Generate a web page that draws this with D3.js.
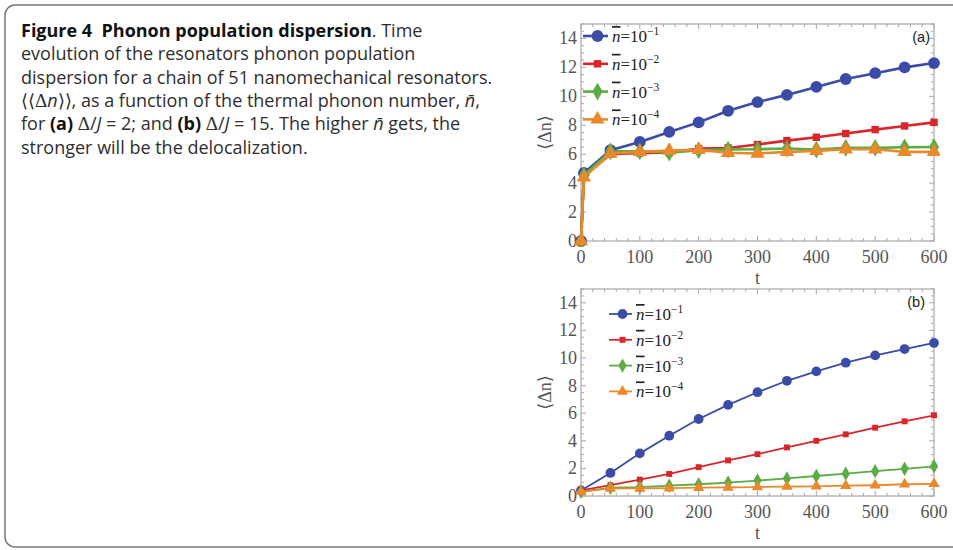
<!DOCTYPE html>
<html>
<head>
<meta charset="utf-8">
<script src="https://cdn.jsdelivr.net/npm/d3@7"></script>
<style>
  html, body { margin: 0; padding: 0; background: #fff; }
  svg { display: block; }
</style>
</head>
<body>
<div id="main"></div>
<script>
// time points (same for all series)
const tA = [0, 5, 50, 100, 150, 200, 250, 300, 350, 400, 450, 500, 550, 600];
const tB = [0, 50, 100, 150, 200, 250, 300, 350, 400, 450, 500, 550, 600];

// panel (a): Delta/J = 2
const a_n1 = [0, 4.7, 6.28, 6.85, 7.54, 8.2, 9.0, 9.6, 10.1, 10.65, 11.2, 11.6, 12.0, 12.3];
const a_n2 = [0, 4.5, 6.0, 6.09, 6.1, 6.39, 6.43, 6.67, 6.94, 7.17, 7.43, 7.7, 7.95, 8.2];
const a_n3 = [0, 4.55, 6.2, 6.2, 6.1, 6.28, 6.32, 6.34, 6.39, 6.32, 6.44, 6.44, 6.48, 6.5];
const a_n4 = [0, 4.4, 6.05, 6.16, 6.25, 6.3, 6.1, 6.05, 6.16, 6.23, 6.34, 6.34, 6.16, 6.16];

// panel (b): Delta/J = 15
const b_n1 = [0.4, 1.67, 3.09, 4.37, 5.58, 6.6, 7.52, 8.35, 9.03, 9.66, 10.19, 10.65, 11.09];
const b_n2 = [0.4, 0.78, 1.19, 1.6, 2.09, 2.58, 3.03, 3.52, 4.0, 4.47, 4.95, 5.41, 5.85];
const b_n3 = [0.3, 0.6, 0.65, 0.75, 0.85, 0.97, 1.12, 1.27, 1.45, 1.62, 1.8, 1.97, 2.15];
const b_n4 = [0.3, 0.55, 0.55, 0.57, 0.6, 0.62, 0.65, 0.68, 0.7, 0.75, 0.78, 0.85, 0.88];

const legendExp = ["\u22121", "\u22122", "\u22123", "\u22124"];
const xTicks = [0, 100, 200, 300, 400, 500, 600];
const yTicks = [0, 2, 4, 6, 8, 10, 12, 14];

const colors = ["#3a4ca6", "#d9262a", "#5cab45", "#e9892b"];
const symbols = [d3.symbolCircle, d3.symbolSquare, d3.symbolDiamond, d3.symbolTriangle];

const ctx = { w: 953, h: 550 };

const svg = d3.select("#main").append("svg")
    .attr("width", ctx.w).attr("height", ctx.h);

// outer caption box (runs off the right edge)
svg.append("rect")
    .attr("x", 5).attr("y", 5)
    .attr("width", 970).attr("height", 542)
    .attr("rx", 10).attr("ry", 10)
    .attr("fill", "none").attr("stroke", "#777").attr("stroke-width", 1.5);

// caption text
const capFont = "'Open Sans', 'Noto Sans', sans-serif";
const serif = "'Liberation Serif', 'DejaVu Serif', serif";
const caption = svg.append("text")
    .attr("font-family", capFont)
    .attr("font-size", 18)
    .attr("fill", "#2e2e2e")
    .style("white-space", "pre");

const nbar = "n\u0304";
// [text, style]: b = bold, i = italic, s = serif symbol
const lines = [
    [["Figure 4  Phonon population dispersion", "b"], [". Time", ""]],
    [["evolution of the resonators phonon population", ""]],
    [["dispersion for a chain of 51 nanomechanical resonators.", ""]],
    [["\u27E8\u27E8", ""], ["\u0394", "s"], ["n", "i"], ["\u27E9\u27E9, as a function of the thermal phonon number, ", ""], [nbar, "i"], [",", ""]],
    [["for ", ""], ["(a)", "b"], [" ", ""], ["\u0394", "s"], ["/", ""], ["J", "i"], [" = 2; and ", ""], ["(b)", "b"], [" ", ""], ["\u0394", "s"], ["/", ""], ["J", "i"], [" = 15. The higher ", ""], [nbar, "i"], [" gets, the", ""]],
    [["stronger will be the delocalization.", ""]]
];
lines.forEach(function(parts, i) {
    parts.forEach(function(p, j) {
        const ts = caption.append("tspan").text(p[0]);
        if (j === 0) ts.attr("x", 21).attr("y", 37 + i * 23.3);
        if (p[1] === "b") ts.attr("font-weight", "bold").attr("fill", "#111");
        if (p[1] === "i") ts.attr("font-style", "italic");
        if (p[1] === "s") ts.attr("font-family", serif).attr("font-size", 19);
    });
});

// one framed panel
function drawPanel(cfg) {
    const x = d3.scaleLinear().domain([0, 600]).range([cfg.left, cfg.right]);
    const y = d3.scaleLinear().domain([0, 15]).range([cfg.bottom, cfg.top]);
    const g = svg.append("g");
    const frameCol = "#a8a8a8";
    const labelCol = "#555";

    // minor + major ticks on all four sides
    const xMinor = d3.range(0, 601, 20);
    const yMinor = d3.range(0, 15.01, 0.5);
    const tk = g.append("g").attr("stroke", frameCol).attr("stroke-width", 1);
    xMinor.forEach(function(v) {
        const len = (v % 100 === 0) ? 5 : 3;
        tk.append("line").attr("x1", x(v)).attr("x2", x(v)).attr("y1", cfg.bottom).attr("y2", cfg.bottom - len);
        tk.append("line").attr("x1", x(v)).attr("x2", x(v)).attr("y1", cfg.top).attr("y2", cfg.top + len);
    });
    yMinor.forEach(function(v) {
        const len = (v % 2 === 0) ? 5 : 3;
        tk.append("line").attr("y1", y(v)).attr("y2", y(v)).attr("x1", cfg.left).attr("x2", cfg.left + len);
        tk.append("line").attr("y1", y(v)).attr("y2", y(v)).attr("x1", cfg.right).attr("x2", cfg.right - len);
    });

    g.append("rect")
        .attr("x", cfg.left).attr("y", cfg.top)
        .attr("width", cfg.right - cfg.left).attr("height", cfg.bottom - cfg.top)
        .attr("fill", "none").attr("stroke", frameCol).attr("stroke-width", 1.2);

    // tick labels
    g.append("g").selectAll("text").data(xTicks).enter().append("text")
        .attr("x", function(d) { return x(d); })
        .attr("y", cfg.bottom + 22)
        .attr("text-anchor", "middle")
        .attr("font-family", serif).attr("font-size", 18).attr("fill", labelCol)
        .text(function(d) { return d; });
    g.append("g").selectAll("text").data(yTicks).enter().append("text")
        .attr("x", cfg.left - 4)
        .attr("y", function(d) { return y(d) + 6; })
        .attr("text-anchor", "end")
        .attr("font-family", serif).attr("font-size", 18).attr("fill", labelCol)
        .text(function(d) { return d; });

    // axis titles
    g.append("text")
        .attr("x", (cfg.left + cfg.right) / 2).attr("y", cfg.bottom + 43)
        .attr("text-anchor", "middle")
        .attr("font-family", serif).attr("font-size", 18).attr("fill", labelCol)
        .text("t");
    g.append("text")
        .attr("transform", "translate(" + (cfg.left - 30) + "," + ((cfg.top + cfg.bottom) / 2) + ") rotate(-90)")
        .attr("text-anchor", "middle")
        .attr("font-family", serif).attr("font-size", 18).attr("fill", labelCol)
        .text("\u27E8\u0394n\u27E9");

    // panel tag
    g.append("text")
        .attr("x", cfg.right - cfg.tagDx).attr("y", cfg.top + 18)
        .attr("text-anchor", "end")
        .attr("font-family", "'Liberation Sans', Arial, sans-serif").attr("font-size", 14.5)
        .attr("fill", "#222")
        .text(cfg.tag);

    // curves
    const clipId = "clip" + cfg.tag.replace(/[()]/g, "");
    svg.append("clipPath").attr("id", clipId).append("rect")
        .attr("x", cfg.left - 6).attr("y", cfg.top)
        .attr("width", cfg.right - cfg.left + 12).attr("height", cfg.bottom - cfg.top + 6);
    const plot = g.append("g").attr("clip-path", "url(#" + clipId + ")");
    const line = d3.line()
        .x(function(d) { return x(d[0]); })
        .y(function(d) { return y(d[1]); });

    cfg.series.forEach(function(vals, k) {
        const pts = cfg.t.map(function(t, i) { return [t, vals[i]]; });
        plot.append("path")
            .attr("d", line(pts))
            .attr("fill", "none")
            .attr("stroke", colors[k])
            .attr("stroke-width", cfg.lw)
            .attr("stroke-linejoin", "round");
        plot.append("g").selectAll("path").data(pts).enter().append("path")
            .attr("transform", function(d) { return "translate(" + x(d[0]) + "," + y(d[1]) + ")"; })
            .attr("d", d3.symbol().type(symbols[k]).size(cfg.msize[k]))
            .attr("fill", colors[k]);
    });

    // legend
    const lg = g.append("g");
    legendExp.forEach(function(e, k) {
        const ly = cfg.legY + k * cfg.legDy;
        lg.append("line")
            .attr("x1", cfg.legX).attr("x2", cfg.legX + cfg.legLen)
            .attr("y1", ly).attr("y2", ly)
            .attr("stroke", colors[k]).attr("stroke-width", cfg.lw);
        lg.append("path")
            .attr("transform", "translate(" + (cfg.legX + cfg.legLen / 2 + 2) + "," + ly + ")")
            .attr("d", d3.symbol().type(symbols[k]).size(cfg.msize[k]))
            .attr("fill", colors[k]);
        const tx = lg.append("text")
            .attr("x", cfg.legX + cfg.legLen + 4).attr("y", ly + 6)
            .attr("font-family", serif).attr("font-size", 17).attr("fill", "#222");
        tx.append("tspan").attr("font-style", "italic").attr("text-decoration", "overline").text("n");
        tx.append("tspan").text("=10");
        tx.append("tspan").attr("font-size", 11.5).attr("dy", -7).text(e);
    });
}

drawPanel({
    left: 581, right: 934, top: 24, bottom: 241, tag: "(a)", tagDx: 4,
    t: tA, series: [a_n1, a_n2, a_n3, a_n4],
    lw: 2.6, msize: [110, 55, 90, 90],
    legX: 583, legY: 36, legDy: 27.8, legLen: 25
});

drawPanel({
    left: 581, right: 934, top: 289, bottom: 496, tag: "(b)", tagDx: 9,
    t: tB, series: [b_n1, b_n2, b_n3, b_n4],
    lw: 1.8, msize: [75, 35, 60, 55],
    legX: 609, legY: 314, legDy: 25.8, legLen: 23
});
</script>
</body>
</html>
